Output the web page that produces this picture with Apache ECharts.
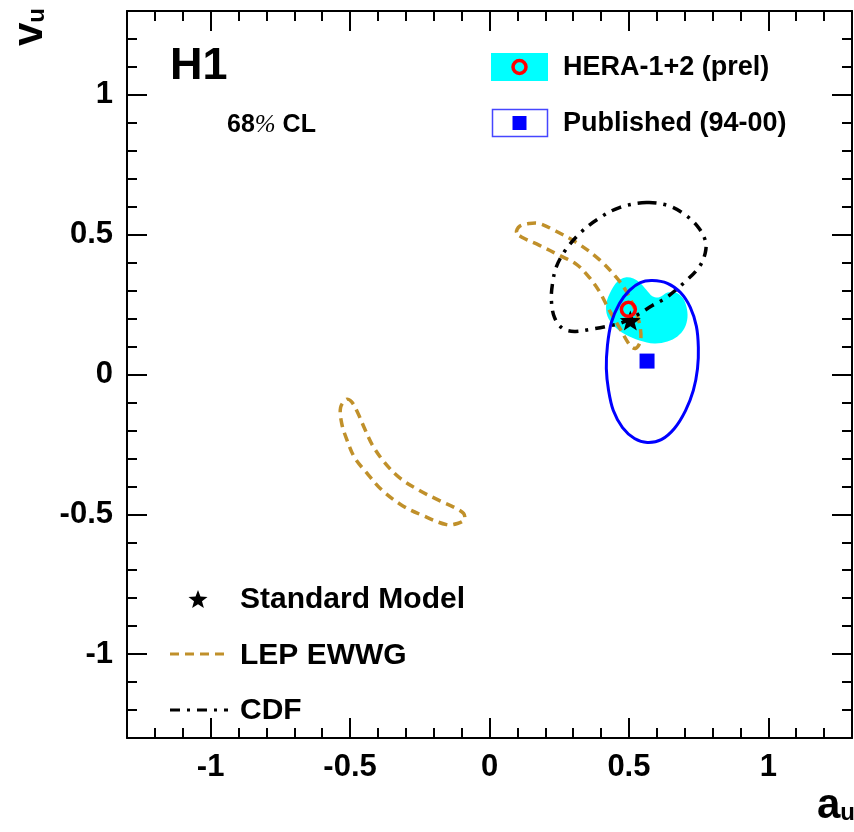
<!DOCTYPE html>
<html><head><meta charset="utf-8">
<script src="https://cdn.jsdelivr.net/npm/echarts@6/dist/echarts.min.js"></script>
<style>html,body{margin:0;padding:0;background:#fff}#c{width:854px;height:832px}</style>
</head><body><div id="c"></div>
<script>
// ---- data (a_u, v_u) ----
const xMajorTicks = [-1, -0.5, 0, 0.5, 1];
const yMajorTicks = [-1, -0.5, 0, 0.5, 1];

const heraPoint = [[0.498, 0.233]];
const publishedPoint = [[0.565, 0.048]];
const smPoint = [[0.505, 0.193]];

const heraContour = [
  [0.437,0.301],[0.459,0.333],[0.487,0.347],[0.516,0.343],[0.541,0.326],[0.563,0.302],
  [0.584,0.280],[0.609,0.276],[0.638,0.293],[0.667,0.293],[0.692,0.275],[0.706,0.243],
  [0.710,0.204],[0.699,0.165],[0.674,0.136],[0.638,0.118],[0.591,0.111],[0.538,0.122],
  [0.487,0.143],[0.448,0.172],[0.423,0.208],[0.419,0.254]
];
const publishedContour = [
  [0.584,0.336],[0.638,0.326],[0.685,0.293],[0.720,0.240],[0.742,0.172],[0.749,0.097],
  [0.746,0.021],[0.731,-0.057],[0.703,-0.129],[0.663,-0.193],[0.616,-0.233],[0.566,-0.243],
  [0.520,-0.229],[0.477,-0.190],[0.444,-0.129],[0.427,-0.057],[0.419,0.021],[0.423,0.104],
  [0.437,0.186],[0.466,0.254],[0.502,0.301],[0.541,0.329]
];
const lepUpper = [
  [0.097,0.508],[0.108,0.530],[0.143,0.540],[0.179,0.540],[0.226,0.519],[0.312,0.472],
  [0.394,0.411],[0.455,0.347],[0.491,0.297],[0.527,0.218],[0.541,0.165],[0.541,0.118],
  [0.523,0.093],[0.502,0.107],[0.466,0.168],[0.430,0.229],[0.394,0.297],[0.358,0.347],
  [0.312,0.394],[0.251,0.426],[0.179,0.462],[0.118,0.490]
];
const lepLower = [
  [-0.513,-0.089],[-0.495,-0.097],[-0.473,-0.136],[-0.448,-0.193],[-0.419,-0.254],[-0.376,-0.315],
  [-0.323,-0.369],[-0.251,-0.415],[-0.179,-0.451],[-0.125,-0.476],[-0.093,-0.497],[-0.090,-0.519],
  [-0.115,-0.533],[-0.154,-0.537],[-0.240,-0.504],[-0.312,-0.469],[-0.384,-0.415],[-0.441,-0.351],
  [-0.484,-0.297],[-0.513,-0.229],[-0.530,-0.175],[-0.534,-0.118]
];
const cdfContour = [
  [0.563,0.615],[0.638,0.605],[0.695,0.576],[0.746,0.530],[0.774,0.479],[0.774,0.436],
  [0.753,0.386],[0.706,0.336],[0.634,0.275],[0.584,0.247],[0.538,0.218],[0.477,0.186],
  [0.419,0.172],[0.358,0.161],[0.305,0.154],[0.262,0.165],[0.233,0.204],[0.222,0.265],
  [0.226,0.326],[0.240,0.386],[0.272,0.444],[0.323,0.504],[0.387,0.555],[0.466,0.597]
];

// ---- styles ----
const FONT = "'Liberation Sans', Arial, Helvetica, sans-serif";
const GOLD = '#c0902a';
const CYAN = '#00ffff';
const BLUE = '#0000ff';
const RED = '#ff0000';
const STAR = 'path://M50,0 L62.5,33 L97.6,34.5 L70,56 L79.4,90.5 L50,71 L20.6,90.5 L30,56 L2.4,34.5 L37.5,33 Z';

function contour(name, pts, style, z) {
  return {
    type: 'custom', name, coordinateSystem: 'cartesian2d', xAxisIndex: 0, yAxisIndex: 0,
    data: pts, silent: true, z, animation: false,
    renderItem: (params, api) => {
      if (params.dataIndex !== 0) return null;
      return { type: 'polygon', shape: { points: pts.map(p => api.coord(p)), smooth: 0.35 }, style };
    }
  };
}

function axisPair(position, majors, showLabel) {
  const base = { type: 'value', min: -1.3, max: 1.3, position, splitLine: { show: false } };
  const major = Object.assign({}, base, {
    axisLine: { show: true, onZero: false, lineStyle: { color: '#000', width: 2 } },
    axisTick: { show: true, inside: true, length: 20, customValues: majors, lineStyle: { color: '#000', width: 2 } },
    axisLabel: showLabel ? { show: true, customValues: majors, fontSize: 31, fontWeight: 'bold', color: '#000', fontFamily: FONT, margin: 14 } : { show: false }
  });
  const minor = Object.assign({}, base, {
    interval: 0.1,
    axisLine: { show: false, onZero: false },
    axisTick: { show: true, inside: true, length: 10, lineStyle: { color: '#000', width: 2 } },
    axisLabel: { show: false }
  });
  return [major, minor];
}

const chart = echarts.init(document.getElementById('c'), null, { renderer: 'canvas' });

const starPts = [];
for (let i = 0; i < 10; i++) {
  const r = i % 2 === 0 ? 10 : 4.2;
  const ang = -Math.PI / 2 + i * Math.PI / 5;
  starPts.push([198 + r * Math.cos(ang), 600 + r * Math.sin(ang)]);
}

chart.setOption({
  animation: false,
  backgroundColor: '#fff',
  grid: { left: 127, top: 11, width: 725, height: 727, containLabel: false },
  xAxis: [...axisPair('bottom', xMajorTicks, true), ...axisPair('top', xMajorTicks, false)],
  yAxis: [...axisPair('left', yMajorTicks, true), ...axisPair('right', yMajorTicks, false)],
  series: [
    contour('HERA-1+2 (prel) contour', heraContour, { fill: CYAN, stroke: null }, 1),
    contour('LEP EWWG upper', lepUpper, { fill: null, stroke: GOLD, lineWidth: 3.5, lineDash: [9, 6] }, 2),
    contour('LEP EWWG lower', lepLower, { fill: null, stroke: GOLD, lineWidth: 3.5, lineDash: [9, 6] }, 2),
    contour('CDF', cdfContour, { fill: null, stroke: '#000', lineWidth: 3.5, lineDash: [10, 7, 3, 7] }, 3),
    contour('Published (94-00) contour', publishedContour, { fill: null, stroke: BLUE, lineWidth: 3 }, 4),
    { type: 'scatter', name: 'Published (94-00)', data: publishedPoint, symbol: 'rect', symbolSize: 15,
      itemStyle: { color: BLUE, opacity: 1 }, z: 5, silent: true },
    { type: 'scatter', name: 'Standard Model', data: smPoint, symbol: STAR, symbolSize: [21, 20],
      itemStyle: { color: '#000', opacity: 1 }, z: 6, silent: true },
    { type: 'scatter', name: 'HERA-1+2 (prel)', data: heraPoint, symbol: 'circle', symbolSize: 14,
      itemStyle: { color: 'rgba(0,0,0,0)', borderColor: RED, borderWidth: 3.5, opacity: 1 }, z: 7, silent: true }
  ],
  graphic: [
    { type: 'text', x: 170, y: 67, style: { text: 'H1', fontSize: 45, fontWeight: 'bold', fontFamily: FONT, fill: '#000', verticalAlign: 'middle' } },
    { type: 'text', x: 227, y: 125, style: { text: '{b|68}{p|%}{b| CL}', verticalAlign: 'middle',
      rich: { b: { fontSize: 25, fontWeight: 'bold', fontFamily: FONT, fill: '#000' },
              p: { fontSize: 25, fontStyle: 'italic', fontFamily: "'Liberation Serif', serif", fill: '#000' } } } },
    // top legend
    { type: 'rect', shape: { x: 491, y: 53, width: 57, height: 28 }, style: { fill: CYAN } },
    { type: 'circle', shape: { cx: 519.5, cy: 67, r: 6.5 }, style: { fill: null, stroke: RED, lineWidth: 3.5 } },
    { type: 'text', x: 563, y: 68, style: { text: 'HERA-1+2 (prel)', fontSize: 27, fontWeight: 'bold', fontFamily: FONT, fill: '#000', verticalAlign: 'middle' } },
    { type: 'rect', shape: { x: 492.5, y: 109.5, width: 55, height: 27 }, style: { fill: null, stroke: '#4646ff', lineWidth: 1.5 } },
    { type: 'rect', shape: { x: 512.5, y: 116, width: 14, height: 14 }, style: { fill: BLUE } },
    { type: 'text', x: 563, y: 124, style: { text: 'Published (94-00)', fontSize: 27, fontWeight: 'bold', fontFamily: FONT, fill: '#000', verticalAlign: 'middle' } },
    // bottom legend
    { type: 'polygon', shape: { points: starPts }, style: { fill: '#000' } },
    { type: 'text', x: 240, y: 600, style: { text: 'Standard Model', fontSize: 30, fontWeight: 'bold', fontFamily: FONT, fill: '#000', verticalAlign: 'middle' } },
    { type: 'line', shape: { x1: 170, y1: 654, x2: 228, y2: 654 }, style: { stroke: GOLD, lineWidth: 3, lineDash: [9, 6] } },
    { type: 'text', x: 240, y: 656, style: { text: 'LEP EWWG', fontSize: 30, fontWeight: 'bold', fontFamily: FONT, fill: '#000', verticalAlign: 'middle' } },
    { type: 'line', shape: { x1: 170, y1: 710, x2: 228, y2: 710 }, style: { stroke: '#000', lineWidth: 3, lineDash: [10, 7, 3, 7] } },
    { type: 'text', x: 240, y: 711, style: { text: 'CDF', fontSize: 30, fontWeight: 'bold', fontFamily: FONT, fill: '#000', verticalAlign: 'middle' } },
    // axis titles
    { type: 'text', x: 30, y: 27, rotation: Math.PI / 2, style: { text: '{v|v}{u|u}', align: 'center', verticalAlign: 'middle',
      rich: { v: { fontSize: 42, fontWeight: 'bold', fontFamily: FONT, fill: '#000' },
              u: { fontSize: 24, fontWeight: 'bold', fontFamily: FONT, fill: '#000', padding: [14, 0, 0, 0] } } } },
    { type: 'text', x: 836, y: 806, style: { text: '{a|a}{u|u}', align: 'center', verticalAlign: 'middle',
      rich: { a: { fontSize: 42, fontWeight: 'bold', fontFamily: FONT, fill: '#000' },
              u: { fontSize: 24, fontWeight: 'bold', fontFamily: FONT, fill: '#000', padding: [14, 0, 0, 0] } } } }
  ]
});
</script></body></html>
